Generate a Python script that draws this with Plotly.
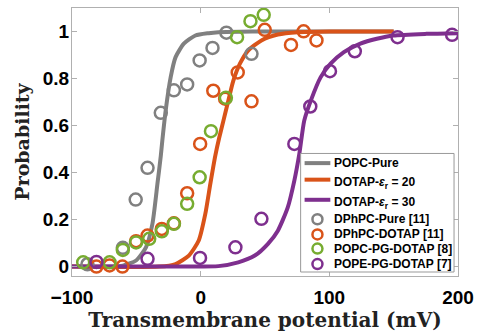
import plotly.graph_objects as go

# Fitted curves
popc_x = [-100, -70.8, -60.5, -50.2, -42.5, -37.5, -33.6, -31, -29.8, -27.2, -23.3, -19.5, -13.1, -4.1, 6.2, 13.8, 40, 80, 150]
popc_y = [0, 0.0, 0.004, 0.026, 0.082, 0.182, 0.352, 0.47, 0.536, 0.664, 0.806, 0.891, 0.948, 0.983, 0.993, 0.997, 1.0, 1.0, 1.0]

d20_x = [-100, -32.3, -19.5, -9.2, -1.5, 3.6, 7.5, 11.3, 14.5, 17.7, 21.5, 25.4, 30.5, 36.9, 47.2, 60, 75.4, 100, 150]
d20_y = [0, 0, 0.011, 0.047, 0.111, 0.224, 0.352, 0.47, 0.55, 0.621, 0.706, 0.791, 0.863, 0.919, 0.962, 0.987, 0.997, 1.0, 1.0]

d30_x = [-100, -9.2, 13.8, 29.2, 42.1, 52.3, 60, 67.7, 72.8, 76.7, 80.5, 85.6, 93.3, 101, 111.3, 124.1, 136.9, 149.8, 175.4, 199.8]
d30_y = [0, 0, 0.002, 0.018, 0.047, 0.097, 0.153, 0.252, 0.366, 0.48, 0.621, 0.706, 0.806, 0.863, 0.912, 0.948, 0.969, 0.983, 0.99, 0.993]

# Experimental data
dphpc_pure_x = [-88, -60.5, -50.5, -41.3, -31, -20.8, -10.5, -0.8, 9.2, 20, 39.5]
dphpc_pure_y = [0.01, 0.08, 0.285, 0.42, 0.654, 0.75, 0.775, 0.877, 0.93, 0.995, 0.905]

dphpc_dotap_x = [-81, -70.8, -60.8, -50.2, -41.3, -30.2, -20.8, -10.5, -0.4, 9.8, 19, 28.8, 39.5, 49.8, 70.2, 80, 90]
dphpc_dotap_y = [0.0, 0.005, 0.0, 0.108, 0.132, 0.16, 0.184, 0.312, 0.522, 0.748, 0.714, 0.826, 0.703, 1.007, 0.943, 1.001, 0.962]

popc_pg_x = [-91.3, -70.8, -60.5, -50.2, -40, -30.2, -20.8, -10.5, -0.8, 8, 19.6, 28.3, 38.7, 49]
popc_pg_y = [0.018, 0.018, 0.071, 0.103, 0.118, 0.15, 0.182, 0.267, 0.38, 0.576, 0.718, 0.976, 1.044, 1.071]

pope_pg_x = [-81, -41.3, -0.5, 27, 47.2, 72.8, 85.2, 100.5, 119.8, 153, 195.4]
pope_pg_y = [0.02, 0.033, 0.037, 0.082, 0.203, 0.522, 0.681, 0.831, 0.916, 0.976, 0.986]

x_ticks = [-100, 0, 100, 200]
y_ticks = [0, 0.2, 0.4, 0.6, 0.8, 1]
y_ticktext = ["0", "0.2", "0.4", "0.6", "0.8", "1"]

line_names = ["POPC-Pure", "DOTAP-<i>ε</i><sub>r</sub> = 20", "DOTAP-<i>ε</i><sub>r</sub> = 30"]
marker_names = ["DPhPC-Pure [11]", "DPhPC-DOTAP [11]", "POPC-PG-DOTAP [8]", "POPE-PG-DOTAP [7]"]

GRAY = "#808080"
ORANGE = "#D95319"
GREEN = "#77AC30"
PURPLE = "#7E2F8E"
line_colors = [GRAY, ORANGE, PURPLE]
marker_colors = [GRAY, ORANGE, GREEN, PURPLE]

fig = go.Figure()
for x, y, c, name in zip([popc_x, d20_x, d30_x], [popc_y, d20_y, d30_y], line_colors, line_names):
    fig.add_trace(go.Scatter(x=x, y=y, mode="lines", name=name, showlegend=False,
                             line=dict(color=c, width=4, shape="spline", smoothing=0.6)))

for x, y, c, name in zip([dphpc_pure_x, dphpc_dotap_x, popc_pg_x, pope_pg_x],
                         [dphpc_pure_y, dphpc_dotap_y, popc_pg_y, pope_pg_y],
                         marker_colors, marker_names):
    fig.add_trace(go.Scatter(x=x, y=y, mode="markers", name=name, showlegend=False,
                             marker=dict(symbol="circle-open", size=12, color=c,
                                         line=dict(width=2.5, color=c))))

# ---- manual legend (layout only) ----
PLOT_L, PLOT_W, PLOT_B, PLOT_H = 72, 390, 276, 269
def px(xp):
    return (xp - PLOT_L) / PLOT_W
def py(yp):
    return (PLOT_B - yp) / PLOT_H

shapes = [dict(type="rect", xref="paper", yref="paper", x0=px(303), x1=px(458),
               y0=py(272), y1=py(153), line=dict(color="#999", width=1), fillcolor="white",
               layer="above")]
annotations = []
entry_y = [162.7, 179.3, 199.5, 219, 234.3, 248.5, 264]
for i, (name, c) in enumerate(zip(line_names, line_colors)):
    shapes.append(dict(type="line", xref="paper", yref="paper", x0=px(307), x1=px(333),
                       y0=py(entry_y[i]), y1=py(entry_y[i]), line=dict(color=c, width=4),
                       layer="above"))
for j, (name, c) in enumerate(zip(marker_names, marker_colors)):
    yy = entry_y[3 + j]
    shapes.append(dict(type="circle", xref="paper", yref="paper",
                       xsizemode="pixel", ysizemode="pixel",
                       xanchor=px(320), yanchor=py(yy), x0=-5, x1=5, y0=-5, y1=5,
                       line=dict(color=c, width=2.5), layer="above"))
for i, name in enumerate(line_names + marker_names):
    yy = entry_y[i]
    shift = -3 if "sub" in name else 0
    annotations.append(dict(xref="paper", yref="paper", x=px(335), y=py(yy), yshift=shift,
                            xanchor="left", yanchor="middle", showarrow=False, text=name,
                            font=dict(family="Liberation Sans", size=12, color="black",
                                      weight="bold")))

axis_common = dict(showline=True, linecolor="#b0b0b0", linewidth=1, mirror="ticks",
                   ticks="inside", ticklen=5, tickcolor="#b0b0b0", showgrid=False,
                   zeroline=False,
                   tickfont=dict(family="Liberation Sans", size=19, color="black", weight="bold"))

fig.update_layout(
    width=481, height=335,
    margin=dict(l=72, r=19, t=7, b=59),
    paper_bgcolor="white", plot_bgcolor="white",
    xaxis=dict(range=[-100, 200], tickvals=x_ticks, ticklabelstandoff=4,
               title=dict(text="Transmembrane potential (mV)", standoff=2,
                          font=dict(family="DejaVu Serif", size=20, color="#222", weight="bold")),
               **axis_common),
    yaxis=dict(range=[-0.04, 1.1], tickvals=y_ticks, ticktext=y_ticktext,
               ticklabelstandoff=-2,
               title=dict(text="Probability", standoff=8,
                          font=dict(family="DejaVu Serif", size=19, color="#222", weight="bold")),
               **axis_common),
    shapes=shapes,
    annotations=annotations,
    showlegend=False,
)

fig.write_html("out.html", config={"displayModeBar": False},
               post_script="document.body.style.margin='0px';")
